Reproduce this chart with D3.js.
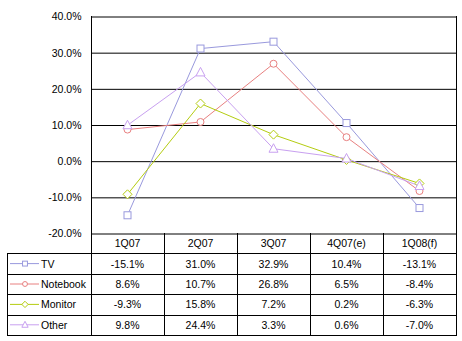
<!DOCTYPE html>
<html><head><meta charset="utf-8">
<script src="https://cdn.jsdelivr.net/npm/d3@7"></script>
<style>
html,body{margin:0;padding:0;background:#fff;}
svg{display:block;font-family:Arial,"Liberation Sans",sans-serif;}
</style></head><body>
<svg id="c" width="462" height="341"></svg>
<script>
const categories = ["1Q07","2Q07","3Q07","4Q07(e)","1Q08(f)"];
const seriesNames = ["TV","Notebook","Monitor","Other"];
const tvValues = [-15.1, 31.0, 32.9, 10.4, -13.1];
const notebookValues = [8.6, 10.7, 26.8, 6.5, -8.4];
const monitorValues = [-9.3, 15.8, 7.2, 0.2, -6.3];
const otherValues = [9.8, 24.4, 3.3, 0.6, -7.0];
const yTicks = [-20, -10, 0, 10, 20, 30, 40];
const colors = ["#9999DD", "#E88080", "#B4CC10", "#C8A0F0"];
const markers = ["square", "circle", "diamond", "triangle"];

const series = seriesNames.map((n, i) => ({
  name: n, values: [tvValues, notebookValues, monitorValues, otherValues][i],
  color: colors[i], marker: markers[i]
}));

const svg = d3.select("#c");
const L = 91, R = 456, T = 16, B = 233, tableBottom = 335, tableLeft = 7;
const x = d3.scaleBand().domain(categories).range([L, R]);
const y = d3.scaleLinear().domain([-20, 40]).range([B, T]);
const rows = d3.scaleBand().domain(["header"].concat(seriesNames)).range([B, tableBottom]);
const fs = "10.5px";

// Axis with gridlines
const axis = d3.axisLeft(y).tickValues(yTicks).tickSize(-(R - L)).tickPadding(10)
  .tickFormat(d => d.toFixed(1) + "%");
const g = svg.append("g").attr("transform", `translate(${L + 0.5},0.5)`).call(axis);
g.select(".domain").remove();
g.selectAll(".tick line").attr("stroke", "#000");
g.selectAll(".tick text").attr("fill", "#000").style("font-size", fs)
  .style("font-family", "Arial,'Liberation Sans',sans-serif");

const lines = svg.append("g").attr("stroke", "#000").attr("stroke-width", 1).attr("shape-rendering", "crispEdges");
// vertical borders
lines.append("line").attr("x1", L + 0.5).attr("x2", L + 0.5).attr("y1", T).attr("y2", tableBottom + 0.5);
lines.append("line").attr("x1", R + 0.5).attr("x2", R + 0.5).attr("y1", T).attr("y2", tableBottom + 0.5);
categories.slice(1).forEach(c => {
  lines.append("line").attr("x1", Math.round(x(c)) + 0.5).attr("x2", Math.round(x(c)) + 0.5)
    .attr("y1", B).attr("y2", tableBottom + 0.5);
});
lines.append("line").attr("x1", tableLeft + 0.5).attr("x2", tableLeft + 0.5)
  .attr("y1", Math.round(rows(seriesNames[0])) + 0.5).attr("y2", tableBottom + 0.5);
seriesNames.forEach(n => {
  const yy = Math.round(rows(n)) + 0.5;
  lines.append("line").attr("x1", tableLeft).attr("x2", R + 0.5).attr("y1", yy).attr("y2", yy);
});
lines.append("line").attr("x1", tableLeft).attr("x2", R + 1).attr("y1", tableBottom + 0.5).attr("y2", tableBottom + 0.5);

function drawMarker(sel, type, cx, cy, color, k) {
  const s = 3.5 * k;
  if (type === "square") {
    sel.append("rect").attr("x", cx - s).attr("y", cy - s).attr("width", 2 * s).attr("height", 2 * s)
      .attr("fill", "#fff").attr("stroke", color);
  } else if (type === "circle") {
    sel.append("circle").attr("cx", cx).attr("cy", cy).attr("r", s).attr("fill", "#fff").attr("stroke", color);
  } else if (type === "diamond") {
    const d = 4.5 * k;
    sel.append("path").attr("d", `M${cx},${cy - d}L${cx + d},${cy}L${cx},${cy + d}L${cx - d},${cy}Z`)
      .attr("fill", "#fff").attr("stroke", color);
  } else {
    const a = 5 * k, b = 4.5 * k, c = 3.5 * k;
    sel.append("path").attr("d", `M${cx},${cy - a}L${cx + b},${cy + c}L${cx - b},${cy + c}Z`)
      .attr("fill", "#fff").attr("stroke", color);
  }
}

const cx = c => x(c) + x.bandwidth() / 2;
const lineGen = d3.line().x((d, i) => cx(categories[i])).y(d => y(d));
const sg = svg.append("g");
series.forEach(s => {
  sg.append("path").attr("d", lineGen(s.values)).attr("fill", "none").attr("stroke", s.color).attr("stroke-width", 1);
});
series.forEach(s => {
  s.values.forEach((v, i) => drawMarker(sg, s.marker, cx(categories[i]), y(v), s.color, 1));
});

// Table text
const tg = svg.append("g").style("font-size", fs).attr("fill", "#000");
categories.forEach(c => {
  tg.append("text").attr("x", cx(c)).attr("y", rows("header") + rows.bandwidth() / 2 + 4)
    .attr("text-anchor", "middle").text(c);
});
series.forEach(s => {
  const ry = rows(s.name) + rows.bandwidth() / 2;
  s.values.forEach((v, i) => {
    tg.append("text").attr("x", cx(categories[i])).attr("y", ry + 4).attr("text-anchor", "middle")
      .text(v.toFixed(1) + "%");
  });
  // legend key
  tg.append("line").attr("x1", 10).attr("x2", 39).attr("y1", ry).attr("y2", ry).attr("stroke", s.color);
  drawMarker(tg, s.marker, 25, ry, s.color, 0.7);
  tg.append("text").attr("x", 41).attr("y", ry + 4).text(s.name);
});
</script>
</body></html>
